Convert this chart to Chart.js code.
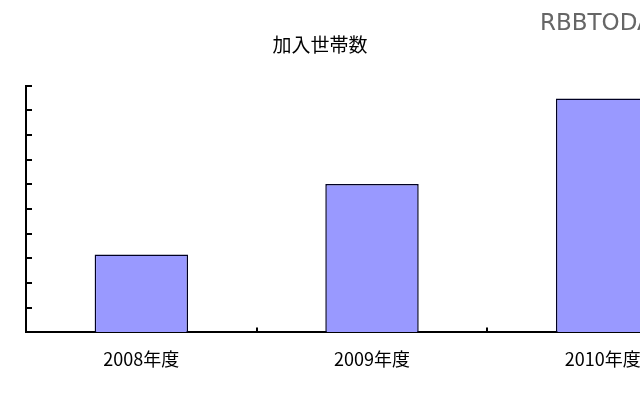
<!DOCTYPE html>
<html>
<head>
<meta charset="utf-8">
<script src="https://cdn.jsdelivr.net/npm/chart.js@4/dist/chart.umd.min.js"></script>
<style>
  html, body { margin: 0; padding: 0; background: #fff; overflow: hidden; }
  #wrap { position: absolute; left: -78px; top: 0; width: 796px; height: 400px; }
</style>
</head>
<body>
<div id="wrap"><canvas id="myChart"></canvas></div>
<script>
// chart data
const categories = ['2008年度', '2009年度', '2010年度'];
const households = [31.6, 60.2, 94.9];
const yMax = 100;
const yStep = 10;
const chartTitle = '加入世帯数';
const watermark = 'RBBTODAY';

// short tick marks drawn on the inner side of both axes
const innerTicks = {
  id: 'innerTicks',
  afterDraw(chart) {
    const ctx = chart.ctx;
    const area = chart.chartArea;
    const x = chart.scales.x;
    const y = chart.scales.y;
    ctx.save();
    ctx.strokeStyle = '#000';
    ctx.lineWidth = 2;
    ctx.beginPath();
    y.ticks.forEach((t) => {
      const py = Math.round(y.getPixelForValue(t.value));
      ctx.moveTo(area.left, py);
      ctx.lineTo(area.left + 6, py);
    });
    for (let i = 0; i < categories.length - 1; i++) {
      const px = Math.round((x.getPixelForTick(i) + x.getPixelForTick(i + 1)) / 2);
      ctx.moveTo(px, area.bottom);
      ctx.lineTo(px, area.bottom - 5);
    }
    ctx.stroke();

    // watermark
    ctx.font = '23px "DejaVu Sans"';
    ctx.textBaseline = 'alphabetic';
    ctx.lineWidth = 2;
    ctx.strokeStyle = 'rgba(255,255,255,0.9)';
    ctx.strokeText(watermark, 618, 30);
    ctx.fillStyle = '#666';
    ctx.fillText(watermark, 618, 30);
    ctx.restore();
  }
};

const ctx = document.getElementById('myChart').getContext('2d');
const myChart = new Chart(ctx, {
  type: 'bar',
  data: {
    labels: categories,
    datasets: [
      {
        label: chartTitle,
        data: households,
        backgroundColor: '#9999ff',
        borderColor: '#000022',
        borderWidth: 1.5,
        borderSkipped: 'bottom',
        categoryPercentage: 1,
        barPercentage: 0.405,
      },
    ],
  },
  options: {
    responsive: true,
    maintainAspectRatio: false,
    animation: false,
    devicePixelRatio: 1,
    layout: { padding: { left: 0, right: 0, top: 0, bottom: 14 } },
    plugins: {
      legend: { display: false },
      tooltip: { enabled: false },
      title: {
        display: true,
        text: chartTitle,
        color: '#000',
        font: { family: '"Noto Sans CJK JP"', size: 19, weight: 'normal' },
        padding: { top: 33, bottom: 30 },
      },
    },
    scales: {
      x: {
        grid: { display: true, drawOnChartArea: false, drawTicks: false },
        border: { color: '#000', width: 2 },
        ticks: {
          color: '#000',
          padding: 16,
          font: { family: '"Noto Sans CJK JP"', size: 18 },
        },
      },
      y: {
        min: 0,
        max: yMax,
        grid: { display: true, drawOnChartArea: false, drawTicks: false },
        border: { color: '#000', width: 2 },
        ticks: { display: false, stepSize: yStep },
        afterFit(scale) { scale.width = 104; },
      },
    },
  },
  plugins: [innerTicks],
});
</script>
</body>
</html>
